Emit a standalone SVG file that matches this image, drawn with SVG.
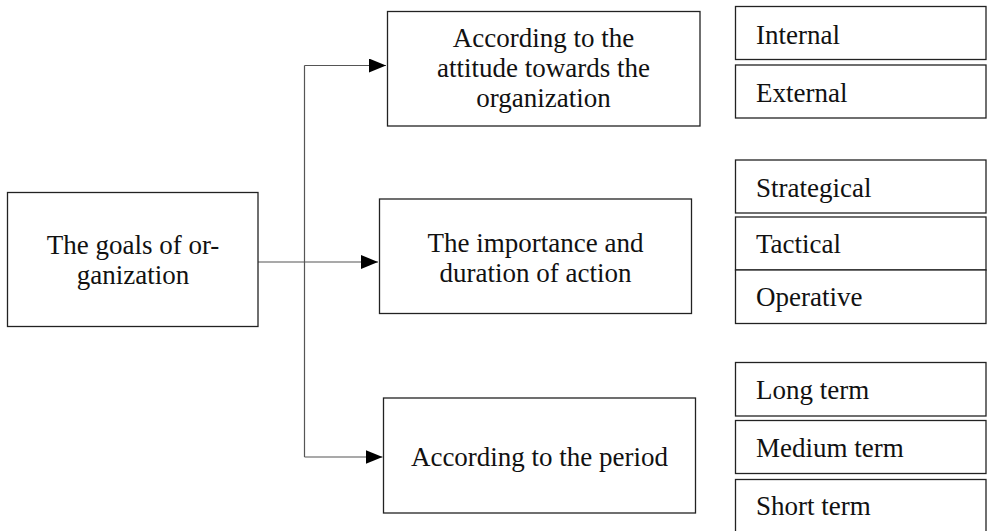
<svg xmlns="http://www.w3.org/2000/svg" width="990" height="531" viewBox="0 0 990 531">
<defs>
<style>
.box{fill:#fff;stroke:#222;stroke-width:1.3}
.t{font-family:"Liberation Serif","Times New Roman",serif;font-size:27px;fill:#111}
.c{text-anchor:middle}
.ln{fill:none;stroke:#555;stroke-width:1.2}
</style>
<marker id="ah" markerWidth="17" markerHeight="14" refX="17" refY="7" orient="auto" markerUnits="userSpaceOnUse">
<path d="M0,0 L17,7 L0,14 Z" fill="#000"/>
</marker>
</defs>
<rect width="990" height="531" fill="#fff"/>
<g id="connectors">
<line class="ln" x1="304.5" y1="65.5" x2="304.5" y2="457"/>
<line class="ln" x1="304.5" y1="65.5" x2="386" y2="65.5" marker-end="url(#ah)"/>
<line class="ln" x1="258" y1="262" x2="378" y2="262" marker-end="url(#ah)"/>
<line class="ln" x1="304.5" y1="457" x2="382.5" y2="457" marker-end="url(#ah)"/>
</g>
<g id="goals">
<rect class="box" x="7.5" y="192.5" width="250.5" height="134"/>
<text class="t c" x="133" y="254">The goals of or-</text>
<text class="t c" x="133" y="284">ganization</text>
</g>
<g id="attitude">
<rect class="box" x="387.5" y="11.5" width="312.5" height="114.5"/>
<text class="t c" x="543.5" y="47">According to the</text>
<text class="t c" x="543.5" y="77">attitude towards the</text>
<text class="t c" x="543.5" y="106.5">organization</text>
</g>
<g id="importance">
<rect class="box" x="379.5" y="199" width="312" height="114.5"/>
<text class="t c" x="535.5" y="252">The importance and</text>
<text class="t c" x="535.5" y="282">duration of action</text>
</g>
<g id="period">
<rect class="box" x="383.5" y="398" width="312" height="115"/>
<text class="t c" x="539.5" y="466">According to the period</text>
</g>
<g id="internal">
<rect class="box" x="735.5" y="6.5" width="250.5" height="53"/>
<text class="t" x="756" y="43.5">Internal</text>
</g>
<g id="external">
<rect class="box" x="735.5" y="65" width="250.5" height="53"/>
<text class="t" x="756" y="101.5">External</text>
</g>
<g id="strategical">
<rect class="box" x="735.5" y="160" width="250.5" height="53"/>
<text class="t" x="756" y="196.5">Strategical</text>
</g>
<g id="tactical">
<rect class="box" x="735.5" y="217" width="250.5" height="53"/>
<text class="t" x="756" y="253">Tactical</text>
</g>
<g id="operative">
<rect class="box" x="735.5" y="270" width="250.5" height="53.5"/>
<text class="t" x="756" y="306">Operative</text>
</g>
<g id="long">
<rect class="box" x="735.5" y="362.5" width="250.5" height="53.5"/>
<text class="t" x="756" y="398.5">Long term</text>
</g>
<g id="medium">
<rect class="box" x="735.5" y="420.5" width="250.5" height="53"/>
<text class="t" x="756" y="457">Medium term</text>
</g>
<g id="short">
<rect class="box" x="735.5" y="479.5" width="250.5" height="60"/>
<text class="t" x="756" y="515">Short term</text>
</g>
</svg>
